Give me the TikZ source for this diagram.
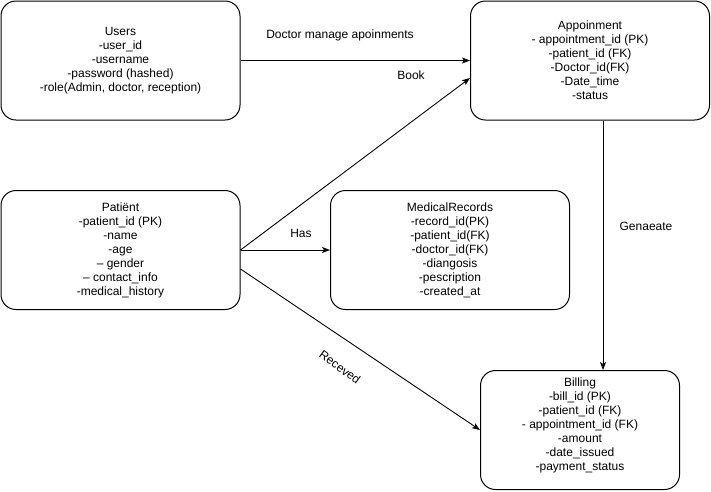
\documentclass[tikz,border=0pt]{standalone}
\usepackage{fontspec}
\setmainfont{Liberation Sans}
\usetikzlibrary{arrows.meta}
\begin{document}
\begin{tikzpicture}[x=1pt,y=-1pt,
  entity/.style={draw=black, line width=1pt, rounded corners=15pt, align=center,
    font=\fontsize{12}{14}\selectfont, inner sep=0pt},
  etext/.style={align=center, font=\fontsize{12}{14}\selectfont, inner sep=0pt},
  conn/.style={draw=black, line width=0.9pt, -{Stealth[length=8pt,width=6pt,inset=2pt]}},
  lbl/.style={font=\fontsize{12}{14}\selectfont, inner sep=1pt}]
\useasboundingbox (0,0) rectangle (711,491);
\node[entity, minimum width=239pt, minimum height=119pt] (users) at (120.5,60.5)
  {Users\\-user\_id\\-username\\-password (hashed)\\-role(Admin, doctor, reception)};
\node[entity, minimum width=239pt, minimum height=119pt] (app) at (590,60.5)
  {Appoinment\\- appointment\_id (PK)\\-patient\_id (FK)\\-Doctor\_id(FK)\\-Date\_time\\-status};
\node[entity, minimum width=239pt, minimum height=119pt] (pat) at (120.5,250)
  {Patiënt\\-patient\_id (PK)\\-name\\-age\\– gender\\– contact\_info\\-medical\_history};
\node[entity, minimum width=239pt, minimum height=119pt] (med) at (450,250)
  {MedicalRecords\\-record\_id(PK)\\-patient\_id(FK)\\-doctor\_id(FK)\\-diangosis\\-pescription\\-created\_at};
\node[entity, minimum width=199pt, minimum height=119pt] (bill) at (580,430) {};
\node[etext] (billtxt) at (580,425)
  {Billing\\-bill\_id (PK)\\-patient\_id (FK)\\- appointment\_id (FK)\\-amount\\-date\_issued\\-payment\_status};

\draw[conn] (users) -- (app);
\draw[conn] (pat.east) -- ([yshift=-17.5pt]app.west);
\draw[conn] (pat) -- (med);
\draw[conn] ([yshift=-19pt]pat.east) -- (bill.west);
\draw[conn] ([xshift=13pt]app.south) -- ([xshift=13pt]app.south |- bill.north);

\node[lbl] (l1) at (340,35) {Doctor manage apoinments};
\node[lbl] (l2) at (411,75) {Book};
\node[lbl] (l3) at (301,233) {Has};
\node[lbl, rotate=-36] (l4) at (340,367) {Receved};
\node[lbl] (l5) at (646,226) {Genaeate};
\end{tikzpicture}
\end{document}
